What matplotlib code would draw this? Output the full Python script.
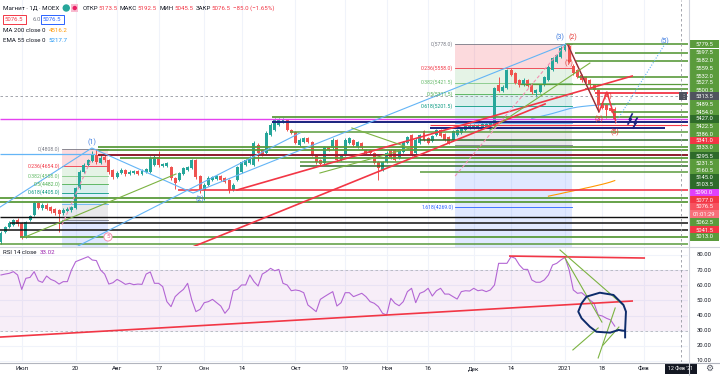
import matplotlib
matplotlib.use("Agg")
import matplotlib.pyplot as plt
import matplotlib.transforms as mtrans
from matplotlib.patches import Rectangle, Ellipse
from matplotlib.lines import Line2D
import numpy as np
import pandas as pd

plt.rcParams['font.family'] = ['Roboto', 'DejaVu Sans']

# ---------------- data (daily candles, Magnit MOEX) ----------------
opens = [3949,4041,4087,4106,4152,4124,3995,4152,4198,4309,
         4263,4290,4272,4253,4244,4216,4235,4244,4263,4447,
         4595,4660,4697,4752,4678,4734,4706,4614,4549,4586,
         4614,4577,4586,4605,4577,4595,4595,4660,4734,4651,
         4651,4641,4540,4521,4577,4614,4632,4706,4558,4429,
         4475,4521,4531,4558,4540,4521,4429,4521,4595,4660,
         4678,4660,4845,4799,4771,4937,4983,5030,5057,5076,
         4983,4965,4845,4873,4909,4873,4752,4706,4678,4826,
         4817,4891,4706,4752,4863,4891,4826,4863,4799,4799,
         4771,4688,4614,4688,4799,4799,4724,4780,4863,4937,
         4771,4863,4974,4909,4882,4937,4983,4946,4919,4891,
         4937,4956,4983,5002,5002,5002,5011,5011,5020,5030,
         5399,5344,5371,5538,5510,5445,5399,5445,5409,5325,
         5334,5399,5445,5538,5612,5658,5723,5760,5575,5538,
         5492,5473,5445,5399,5353,5233,5214,5187,5173.5]
closes = [4032,4087,4124,4152,4115,3995,4133,4189,4309,4263,
          4290,4253,4235,4216,4207,4244,4253,4272,4447,4595,
          4660,4706,4752,4688,4724,4706,4595,4549,4586,4614,
          4577,4595,4605,4577,4605,4623,4724,4734,4660,4669,
          4678,4540,4494,4586,4632,4641,4706,4549,4429,4475,
          4540,4549,4558,4521,4503,4429,4475,4641,4688,4706,
          4724,4863,4771,4752,4956,5030,5076,5076,5076,4983,
          4956,4863,4891,4909,4873,4752,4688,4669,4826,4799,
          4891,4706,4752,4891,4909,4845,4873,4817,4771,4771,
          4678,4632,4688,4771,4734,4706,4799,4873,4919,4752,
          4891,4937,4891,4863,4928,4983,4928,4891,4863,4974,
          4983,5002,5020,5030,5030,5030,5039,5039,5048,5371,
          5344,5381,5538,5492,5418,5399,5445,5390,5334,5353,
          5399,5473,5566,5649,5676,5741,5769,5612,5510,5473,
          5445,5427,5399,5353,5214,5187,5168,5161.5,5076.5]
highs = [4050,4100,4140,4165,4170,4135,4145,4200,4330,4320,
         4310,4305,4285,4265,4255,4260,4270,4285,4460,4610,
         4675,4720,4790,4808,4760,4750,4720,4625,4600,4630,
         4625,4610,4615,4615,4620,4635,4740,4750,4790,4680,
         4690,4650,4550,4595,4645,4655,4720,4715,4565,4490,
         4555,4560,4570,4570,4550,4530,4490,4655,4700,4720,
         4740,4880,4860,4810,4970,5050,5090,5095,5090,5085,
         4995,4975,4905,4920,4920,4885,4760,4715,4840,4840,
         4905,4900,4765,4905,4920,4900,4885,4875,4810,4810,
         4780,4700,4700,4785,4810,4810,4810,4885,4930,4950,
         4905,4950,4985,4920,4940,4995,4995,4955,4930,4985,
         4995,5015,5030,5040,5040,5040,5050,5050,5060,5385,
         5470,5395,5550,5560,5520,5455,5460,5455,5420,5365,
         5410,5485,5580,5660,5690,5755,5778,5775,5590,5550,
         5505,5485,5455,5410,5365,5245,5225,5200,5192.5]
lows = [3930,4030,4075,4095,4100,3975,3985,4140,4190,4250,
        4245,4240,4220,4200,4040,4200,4225,4230,4255,4440,
        4585,4650,4690,4670,4665,4690,4580,4530,4540,4575,
        4560,4565,4575,4565,4570,4585,4590,4650,4645,4640,
        4640,4525,4440,4510,4570,4605,4625,4535,4400,4337,
        4465,4510,4520,4510,4490,4400,4420,4510,4585,4650,
        4670,4650,4700,4740,4760,4925,4975,5020,5045,4970,
        4945,4850,4835,4865,4860,4740,4670,4655,4670,4785,
        4805,4690,4695,4745,4855,4830,4815,4805,4760,4760,
        4665,4520,4600,4680,4720,4695,4715,4770,4855,4740,
        4760,4855,4880,4850,4870,4925,4915,4880,4850,4880,
        4925,4945,4975,4995,4995,4995,5000,5000,5010,5020,
        5330,5330,5360,5480,5405,5385,5390,5380,5320,5290,
        5325,5390,5435,5530,5600,5650,5710,5600,5495,5460,
        5430,5415,5385,5340,5150,5175,5094,5150,5045.5]
rsi = [66.8,67.4,67.9,69.0,66.8,57.3,64.6,65.2,69.0,63.0,
       61.9,66.1,63.9,62.8,60.8,62.4,62.4,70.1,75.6,76.7,
       77.8,78.9,76.7,76.3,70.1,67.4,60.8,61.7,63.9,62.4,
       60.6,61.3,60.4,60.8,60.6,67.4,68.8,61.3,61.3,59.1,
       49.2,45.9,52.5,55.1,57.3,61.3,50.3,42.6,44.1,48.5,
       49.2,50.7,48.5,46.3,41.5,44.8,56.4,57.3,60.2,60.2,
       66.8,62.4,59.5,67.4,69.0,71.2,69.6,70.5,61.3,60.2,
       56.4,56.9,56.4,55.1,47.0,44.8,42.6,50.7,52.5,54.2,
       55.8,46.3,48.5,55.1,55.1,52.5,53.6,
       54.7,52.5,49.2,48.1,45.9,41.5,40.4,51.4,48.1,46.5,
       49.2,55.8,58.0,48.5,54.7,55.8,58.0,52.9,56.4,58.0,
       54.2,54.2,52.5,50.9,55.8,56.4,56.2,58.0,56.4,56.9,
       55.8,56.9,60.2,74.5,74.5,74.5,78.9,77.8,73.4,70.5,
       70.5,63.5,62.0,62.0,63.5,66.8,73.4,74.5,76.7,78.5,
       70.1,56.9,54.7,55.1,52.9,50.3,48.1,40.4,39.7,38.2,
       37.1,33.02]
ma200_start = 132
ma200 = [4372,4380,4388,4396,4405,4413,4421,4430,4438,4447,4455,4464,4473,4482,4492,4503,4516.2]
ema55_start = 128
ema55 = [5090,5099,5108,5117,5126,5136,5147,5158,5169,5180,5188,5195,5200,5204,5208,5211,5212,5214,5215,5216,5217.7]

tick_dates = ["2020-07-01","2020-07-20","2020-08-03","2020-08-17","2020-09-01","2020-09-14",
              "2020-10-01","2020-10-19","2020-11-02","2020-11-16","2020-12-01","2020-12-14",
              "2021-01-04","2021-01-18","2021-02-01"]
tick_labels = ["Июл","20","Авг","17","Сен","14","Окт","19","Ноя","16","Дек","14","2021","18","Фев"]
holidays = ["2020-12-31","2021-01-01","2021-01-07"]

# fib retracements (prices of levels)
fib_ratios = ["0","0.236","0.382","0.5","0.618","0.786","1","1.618","2.618"]
fib_left_prices = [4808,4654,4558,4482,4405,4296,4156,3753]
fib_right_prices = [5778,5558,5421.5,5311.5,5201.5,5045,4845,4269,3336]

# ---------------- colors ----------------
UP, DN = "#26a69a", "#ef5350"
G, DG, R, M, NV, MR, K, LB = "#5a9b3c", "#2e6b2a", "#f23645", "#e542f0", "#1a237e", "#8e1b2e", "#111111", "#64b5f6"
BLUE_W, RED_W = "#3d7be0", "#e53935"

W, H = 720, 376
fig = plt.figure(figsize=(W / 100, H / 100), dpi=100)
fig.patch.set_facecolor("white")
renderer = fig.canvas.get_renderer()

def fx(px): return px / W
def fy(py): return 1 - py / H

XMIN, XMAX = -0.24, 165.66
ax = fig.add_axes([0, fy(246), fx(688), 246 / H])
ax2 = fig.add_axes([0, fy(362), fx(688), 114 / H])
for a in (ax, ax2):
    a.set_xlim(XMIN, XMAX)
    for s in a.spines.values():
        s.set_visible(False)
    a.set_xticks([]); a.set_yticks([])
    a.set_facecolor("white")
ax.set_ylim(3911.6, 6184.6)
ax2.set_ylim(9.33, 84.62)

days = pd.bdate_range("2020-06-24", "2021-03-01")
days = days[~days.isin(pd.to_datetime(holidays))]
tick_pos = [days.get_loc(pd.Timestamp(d)) for d in tick_dates]
cross_pos = days.get_loc(pd.Timestamp("2021-02-12"))

# grid
for p in tick_pos:
    ax.axvline(p, color="#f0f3fa", lw=0.8, zorder=0)
    ax2.axvline(p, color="#f0f3fa", lw=0.8, zorder=0)
for v in range(10, 90, 10):
    ax2.axhline(v, color="#f0f3fa", lw=0.8, zorder=0)

# ---------------- fib zones ----------------
fib_fill = ["#f23645", "#81c784", "#4caf50", "#089981", "#64b5f6", "#787b86", "#2962ff", "#2962ff"]
fib_alpha = [0.18, 0.2, 0.15, 0.15, 0.2, 0.16, 0.14, 0.14]
fib_line = ["#787b86", "#f23645", "#81c784", "#4caf50", "#089981", "#64b5f6", "#787b86", "#2962ff", "#2962ff"]
fib_txt = ["#787b86", "#f23645", "#66bb6a", "#4caf50", "#089981", "#64b5f6", "#787b86", "#2962ff", "#2962ff"]

def draw_fib(i0, i1, prices, show):
    for k in range(len(prices) - 1):
        ax.fill_between([i0, i1], prices[k + 1], prices[k], color=fib_fill[k], alpha=fib_alpha[k], lw=0, zorder=1)
    for k, p in enumerate(prices):
        ax.plot([i0, i1], [p, p], color=fib_line[k], lw=0.6, zorder=1.5)
        if k in show:
            ax.text(i0 - 0.4, p, f"{fib_ratios[k]}({prices[k]:.1f})", color=fib_txt[k],
                    fontsize=3.7, ha="right", va="center", zorder=5)

draw_fib(14.7, 25.8, fib_left_prices, [0, 1, 2, 3, 4])
draw_fib(109.5, 137.7, fib_right_prices, [0, 1, 2, 3, 4, 7])

# ---------------- horizontal lines ----------------
hlines = [(5778, 136.0, XMAX, G, 1.2), (5695, 138.4, XMAX, G, 1.2), (5621, 138.4, XMAX, G, 1.2),
          (5473, 139.1, XMAX, G, 1.2), (5409, 125.2, XMAX, G, 0.9), (5362, 140.8, XMAX, G, 1.2),
          (5325, 143.2, XMAX, R, 1.3), (5224, 144.4, XMAX, G, 1.2), (5150, 147.3, XMAX, G, 1.2),
          (5100, 65.3, XMAX, G, 1.3), (5085, XMIN, XMAX, M, 1.0), (5057, 65.3, XMAX, NV, 1.4),
          (5030, 103.4, XMAX, R, 0.8), (5002, 103.4, 160.1, NV, 1.4), (4965, 69.7, XMAX, G, 1.1),
          (4891, 101.0, XMAX, DG, 1.1), (4826, 23.4, XMAX, G, 1.3), (4799, 23.4, XMAX, G, 1.3),
          (4762, XMIN, 22.7, LB, 0.9), (4752, 23.4, XMAX, MR, 1.4), (4724, 28.7, XMAX, G, 1.3),
          (4688, 72.1, XMAX, G, 1.1), (4651, 72.1, XMAX, DG, 1.1), (4595, 101.0, XMAX, G, 1.1),
          (4429, 42.7, XMAX, R, 1.2), (4355, XMIN, XMAX, G, 1.3), (4318, XMIN, XMAX, G, 1.3),
          (4180, XMIN, XMAX, K, 1.0), (4124, 2.2, XMAX, K, 1.1), (4060, XMIN, XMAX, K, 1.1),
          (3995, 4.6, XMAX, G, 1.3), (3930, XMIN, XMAX, G, 1.1)]
for p, i0, i1, c, lw in hlines:
    ax.plot([i0, i1], [p, p], color=c, lw=lw, zorder=4, solid_capstyle="butt")

# crosshair
ax.axhline(5297, color="#9598a1", lw=0.6, ls=(0, (3, 3)), zorder=4)
ax.axvline(cross_pos, color="#9598a1", lw=0.6, ls=(0, (3, 3)), zorder=4)
ax2.axvline(cross_pos, color="#9598a1", lw=0.6, ls=(0, (3, 3)), zorder=4)

# ---------------- diagonal drawings ----------------
ax.plot([-0.2, 21.9, 46.3, 136.2], [4272, 4817, 4401, 5778], color=LB, lw=0.8, zorder=4)
ax.plot([18.6, 72.1], [3912, 4956], color=LB, lw=0.8, zorder=4)
ax.plot([56.9, 152.2], [4429, 5482], color=R, lw=1.2, zorder=4)
ax.plot([44.4, 131.2], [3875, 5224], color=R, lw=1.2, zorder=4)
ax.plot([136.7, 144.2, 146.1, 148.3], [5769, 5150, 5334, 5057], color=R, lw=1.1, zorder=4)
ax.plot([136.7, 144.2], [5769, 5150], color="#444444", lw=0.5, zorder=4)
ax.plot([148.3, 160.1], [5057, 5778], color=LB, lw=0.8, ls=(0, (1, 1.5)), zorder=4)
for xs, ps in [([5.8, 42.2], [3995, 4577]), ([76.9, 98.6], [4586, 4817]),
               ([84.6, 98.6], [5002, 4817]), ([117.9, 142.0], [4983, 5602])]:
    ax.plot(xs, ps, color="#7cb342", lw=0.8, zorder=4)
ax.plot([14.7, 21.7], [4106, 4706], color="#f48fb1", lw=0.8, ls=(0, (3, 2)), zorder=4)
ax.plot([109.5, 136.2], [4558, 5778], color="#f48fb1", lw=0.8, ls=(0, (3, 2)), zorder=4)
ax.plot([152.2, 151.5, 152.0, 151.2], [5131, 5080, 5085, 5039], color=NV, lw=1.2, zorder=6)
ax.plot([153.4, 152.7, 153.2, 152.4], [5094, 5048, 5053, 5002], color=NV, lw=1.2, zorder=6)

# moving averages
ax.plot(np.arange(ma200_start, ma200_start + len(ma200)), ma200, color="#ff9800", lw=0.8, zorder=3)
ax.plot(np.arange(ema55_start, ema55_start + len(ema55)), ema55, color="#64b5f6", lw=0.8, zorder=3)

# ---------------- candles ----------------
o, c = np.array(opens, float), np.array(closes, float)
h = np.maximum(np.array(highs, float), np.maximum(o, c))
l = np.minimum(np.array(lows, float), np.minimum(o, c))
x = np.arange(len(o))
col = np.where(c >= o, UP, DN)
ax.vlines(x, l, h, colors=col, lw=0.7, zorder=3.5)
ax.bar(x, np.maximum(np.abs(c - o), 5), bottom=np.minimum(o, c), width=0.72, color=col, lw=0, zorder=3.6)

# Elliott labels
for t, xi, p, cc in [("(1)", 22.0, 4872, BLUE_W), ("(2)", 48.0, 4346, BLUE_W), ("(3)", 134.9, 5842, BLUE_W),
                     ("(2)", 137.9, 5842, RED_W), ("(1)", 137.0, 5602, RED_W), ("(3)", 144.2, 5085, RED_W),
                     ("(4)", 146.3, 5297, RED_W), ("(5)", 148.1, 4965, RED_W), ("(5)", 160.1, 5800, BLUE_W)]:
    ax.text(xi, p, t, color=cc, fontsize=5.0, ha="center", va="center", zorder=7)
ax.text(25.8, 3995, "5", color="#f06292", fontsize=4.5, ha="center", va="center", zorder=7,
        bbox=dict(boxstyle="circle,pad=0.25", fc="white", ec="#f48fb1", lw=0.7))

# ---------------- RSI ----------------
ax2.axhspan(30, 70, color="#9c27b0", alpha=0.08, lw=0, zorder=0.5)
ax2.axhline(70, color="#b2b5be", lw=0.6, ls=(0, (3, 3)), zorder=1)
ax2.axhline(30, color="#b2b5be", lw=0.6, ls=(0, (3, 3)), zorder=1)
ax2.plot(np.arange(len(rsi)), rsi, color="#b366d4", lw=0.8, zorder=3)
ax2.plot([-0.24, 152.2], [25.8, 49.6], color=R, lw=1.2, zorder=4)
ax2.plot([122.7, 155.1], [79.3, 78.0], color=R, lw=1.2, zorder=4)
for xs, vs in [([134.8, 150.0], [83.3, 47.0]), ([136.0, 144.9], [78.0, 35.7]), ([137.9, 144.0], [17.3, 31.8]),
               ([144.0, 148.1], [12.0, 45.0]), ([145.2, 149.0], [20.6, 32.4])]:
    ax2.plot(xs, vs, color="#7cb342", lw=0.8, zorder=4)
circ_x = [150.5, 150.5, 150.7, 150.1, 147.7, 144.4, 141.2, 140.0, 139.2, 140.0, 142.0, 143.6, 146.9, 148.9, 150.1]
circ_v = [25.6, 30.5, 42.6, 47.0, 53.6, 55.1, 52.5, 48.1, 42.6, 38.2, 32.6, 29.3, 28.7, 30.5, 30.0]
ax2.plot(circ_x, circ_v, color="#0d2b6b", lw=1.4, zorder=5, solid_joinstyle="round")

# ---------------- separators ----------------
fig.add_artist(Line2D([0, 1], [fy(247), fy(247)], color="#d1d4dc", lw=0.8, transform=fig.transFigure))
fig.add_artist(Line2D([0, 1], [fy(363), fy(363)], color="#b2b5be", lw=0.8, transform=fig.transFigure))
fig.add_artist(Line2D([fx(688.5), fx(688.5)], [fy(0), fy(376)], color="#d1d4dc", lw=0.8, transform=fig.transFigure))

# ---------------- price scale labels ----------------
right_labels = [("5779.5", 44, G), ("5697.5", 53, G), ("5682.0", 61, G), ("5559.5", 68, G), ("5532.0", 76, G),
                ("5527.5", 83, G), ("5500.5", 90, G), ("5313.5", 96, "#50535e"), ("5489.5", 104, G),
                ("5454.0", 112, G), ("5427.0", 119, DG), ("5422.5", 127, G), ("5386.0", 134, G),
                ("5341.0", 141, R), ("5333.0", 148, G), ("5295.5", 156, DG), ("5231.5", 163, G),
                ("5160.5", 171, G), ("5145.0", 178, DG), ("5103.5", 185, DG), ("5090.0", 193, "#e040fb"),
                ("5077.0", 200, R), ("5076.5", 207, "#f7525f"), ("01:01:29", 214, "#f7707a"),
                ("5062.5", 222, G), ("5041.5", 230, R), ("5013.0", 237, G)]
for t, py, cc in right_labels:
    fig.add_artist(Rectangle((fx(689.5), fy(py + 3.6)), fx(29.5), 7.2 / H, color=cc, transform=fig.transFigure, lw=0))
    fig.text(fx(704), fy(py), t, color="white", fontsize=4.2, ha="center", va="center")
fig.add_artist(Rectangle((fx(679), fy(99.6)), fx(8), 7.2 / H, color="#50535e", transform=fig.transFigure, lw=0))
fig.text(fx(683), fy(96), "⋮", color="white", fontsize=4.5, ha="center", va="center", family="DejaVu Sans")

rsi_tr = mtrans.blended_transform_factory(fig.transFigure, ax2.transData)
for v in range(10, 90, 10):
    fig.text(fx(704), v, f"{v:.2f}", transform=rsi_tr, color="#131722", fontsize=4.2, ha="center", va="center")

# x labels
x_tr = mtrans.blended_transform_factory(ax2.transData, fig.transFigure)
for p, t in zip(tick_pos, tick_labels):
    fig.text(p, fy(368.5), t, transform=x_tr, color="#131722", fontsize=4.5, ha="center", va="center")
fig.add_artist(Rectangle((fx(665), fy(374)), fx(32), 11 / H, color="#131722", transform=fig.transFigure, lw=0))
fig.text(fx(681), fy(368.5), "12 Фев '21", color="white", fontsize=3.8, ha="center", va="center")
fig.text(fx(709), fy(368.5), "⚙", color="#50535e", fontsize=6.5, ha="center", va="center", family="DejaVu Sans")

# ---------------- legends (laid out piece by piece) ----------------
TXT = "#131722"

def seq_text(pieces, x0, py, fs):
    xp = x0
    for t, cc, gap in pieces:
        tt = fig.text(fx(xp), fy(py), t, color=cc, fontsize=fs, va="center")
        bb = tt.get_window_extent(renderer=renderer)
        xp = bb.x1 + gap
    return xp

xe = seq_text([("Магнит · 1Д · MOEX", TXT, 4)], 3, 8, 4.5)
fig.add_artist(Ellipse((fx(xe + 3), fy(8)), 6 / W, 6 / H, color="#26a69a", transform=fig.transFigure))
fig.add_artist(Rectangle((fx(xe + 8), fy(12)), fx(7), 8 / H, color="#f8bbd0", transform=fig.transFigure, lw=0))
fig.add_artist(Ellipse((fx(xe + 11.5), fy(8)), 3 / W, 3 / H, color="#e91e63", transform=fig.transFigure))
seq_text([("ОТКР", TXT, 0.5), ("5173.5", R, 2.5), ("МАКС", TXT, 0.5), ("5192.5", R, 2.5),
          ("МИН", TXT, 0.5), ("5045.5", R, 2.5), ("ЗАКР", TXT, 0.5), ("5076.5", R, 2.5),
          ("−85.0 (−1.65%)", R, 0)], xe + 19, 8, 4.4)
fig.text(fx(5), fy(19.5), "5076.5", color=R, fontsize=4.3, va="center",
         bbox=dict(boxstyle="square,pad=0.35", fc="white", ec=R, lw=0.7))
fig.text(fx(33), fy(19.5), "6.0", color="#787b86", fontsize=4.3, va="center")
fig.text(fx(43), fy(19.5), "5076.5", color="#2962ff", fontsize=4.3, va="center",
         bbox=dict(boxstyle="square,pad=0.35", fc="white", ec="#2962ff", lw=0.7))
seq_text([("MA 200 close 0", TXT, 3), ("4516.2", "#ff9800", 0)], 3, 31, 4.4)
seq_text([("EMA 55 close 0", TXT, 3), ("5217.7", "#2196f3", 0)], 3, 41, 4.4)
seq_text([("RSI 14 close", TXT, 3), ("33.02", "#9c27b0", 0)], 3, 252, 4.4)

fig.savefig("out.png", dpi=100)
